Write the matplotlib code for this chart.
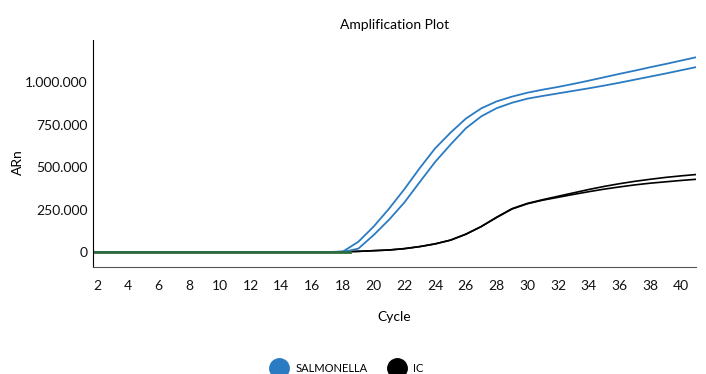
import matplotlib
matplotlib.use("Agg")
import matplotlib.pyplot as plt
from matplotlib.lines import Line2D
from matplotlib.ticker import FuncFormatter

plt.rcParams['font.family'] = ['Lato', 'DejaVu Sans']

# cycle numbers and fluorescence (ARn) per curve
cycles = list(range(1, 42))

salmonella_a = [0] * 17 + [3000, 60000, 150000, 255000, 370000, 494000, 610000,
                           702000, 785000, 845000, 886000, 914000, 937000, 955000,
                           971000, 989000, 1008000, 1028000, 1048000, 1067000,
                           1087000, 1106000, 1126000, 1146000]
salmonella_b = [0] * 18 + [20000, 100000, 190000, 292000, 412000, 530000, 632000,
                           728000, 798000, 846000, 878000, 902000, 918000, 933000,
                           948000, 963000, 979000, 996000, 1014000, 1032000,
                           1050000, 1069000, 1088000]
ic_a = [0] * 17 + [2000, 4000, 8000, 12000, 20000, 32000, 48000, 70000, 105000,
                   150000, 205000, 255000, 286000, 308000, 328000, 348000, 368000,
                   386000, 402000, 416000, 428000, 439000, 448000, 456000]
ic_b = [0] * 17 + [2000, 4000, 8000, 12000, 20000, 32000, 48000, 70000, 105000,
                   150000, 203000, 253000, 284000, 305000, 322000, 339000, 355000,
                   370000, 383000, 395000, 405000, 413000, 421000, 428000]

# flat baseline segment shown in green
baseline_cycles = [1, 18.45]
baseline_values = [0, 0]

x_ticks = list(range(2, 41, 2))
y_ticks = [0, 250000, 500000, 750000, 1000000]

blue = '#2b7bc3'
green = '#2e6b3c'

fig = plt.figure(figsize=(7.06, 3.74), dpi=100)
ax = fig.add_axes([93 / 706, 1 - 267 / 374, 603 / 706, 227 / 374])

ax.plot(cycles, ic_a, color='black', lw=1.2)
ax.plot(cycles, ic_b, color='black', lw=1.2)
ax.plot(cycles, salmonella_a, color=blue, lw=1.3)
ax.plot(cycles, salmonella_b, color=blue, lw=1.3)
ax.plot(baseline_cycles, baseline_values, color=green, lw=2)

ax.set_xlim(1.74, 40.97)
ax.set_ylim(-88000, 1247000)
ax.set_xticks(x_ticks)
ax.set_yticks(y_ticks)
ax.yaxis.set_major_formatter(FuncFormatter(lambda v, p: f"{int(v):,}".replace(',', '.')))
ax.tick_params(axis='both', length=0, labelsize=10, colors='#111111')
ax.tick_params(axis='x', pad=9)
ax.tick_params(axis='y', pad=4)

for side in ['top', 'right']:
    ax.spines[side].set_visible(False)
ax.spines['left'].set_color('black')
ax.spines['bottom'].set_color('#555555')

ax.set_title('Amplification Plot', fontsize=10, pad=8)
ax.set_xlabel('Cycle', fontsize=10, labelpad=14)
ax.set_ylabel('ARn', fontsize=10, labelpad=0)
ax.yaxis.set_label_coords(-0.115, 0.46)

handles = [Line2D([], [], marker='o', ls='', color=blue, markersize=14),
           Line2D([], [], marker='o', ls='', color='black', markersize=14)]
fig.legend(handles, ['SALMONELLA', 'IC'], loc='center', ncol=2, frameon=False,
           bbox_to_anchor=(0.49, 1 - 368 / 374), fontsize=8,
           handletextpad=0.5, columnspacing=1.6, handlelength=2.0)

fig.savefig('out.png', dpi=100)
